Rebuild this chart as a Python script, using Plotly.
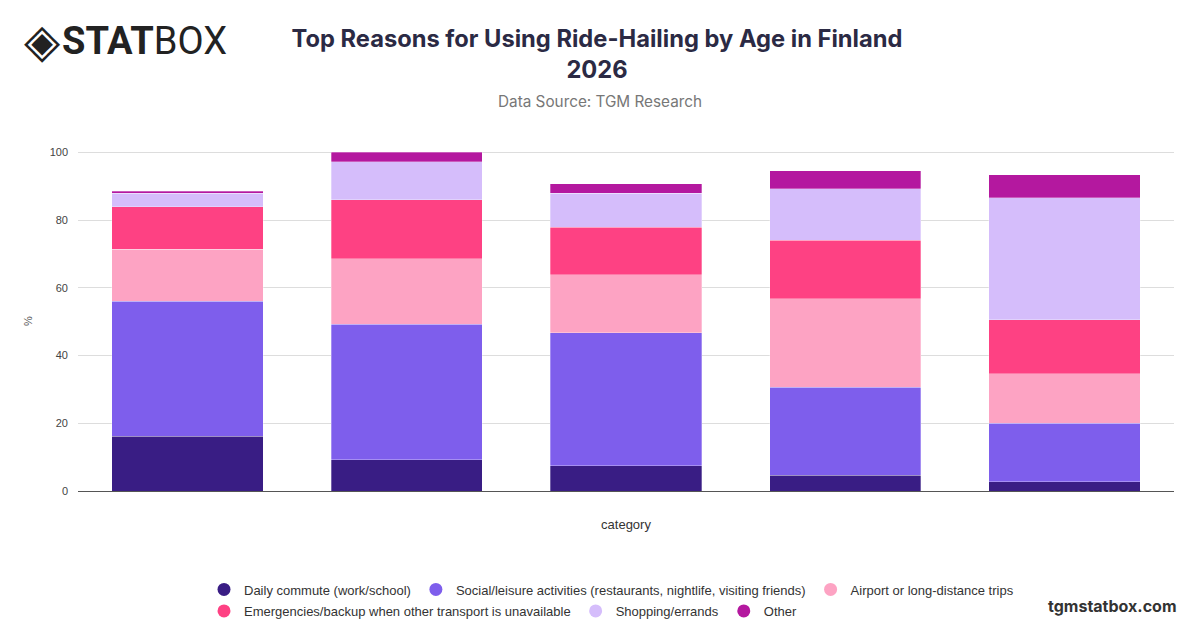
import plotly.graph_objects as go

# age groups (tick labels are not shown in the chart)
categories = ["18-24", "25-34", "35-44", "45-54", "55+"]

reasons = [
    "Daily commute (work/school)",
    "Social/leisure activities (restaurants, nightlife, visiting friends)",
    "Airport or long-distance trips",
    "Emergencies/backup when other transport is unavailable",
    "Shopping/errands",
    "Other",
]

commute = [16.1, 9.3, 7.4, 4.6, 2.7]
social = [39.9, 40.0, 39.3, 26.0, 17.3]
airport = [15.4, 19.3, 17.2, 26.1, 14.6]
emergencies = [12.5, 17.4, 14.0, 17.3, 16.0]
shopping = [4.0, 11.3, 10.0, 15.2, 36.0]
other = [0.6, 2.7, 2.8, 5.4, 6.8]

series = [commute, social, airport, emergencies, shopping, other]
colors = ["#391d84", "#7e5eec", "#fda3c3", "#fe4183", "#d5bdfb", "#b4189f"]

# page body has an 8px margin, so the figure is drawn 8px in from the window corner
OFF = 8
W, H = 1200 - OFF, 628 - OFF
L, R, T, B = 78 - OFF, 26, 151 - OFF, 137


def px(x):
    # window pixel x -> paper x
    return (x - OFF - L) / (W - L - R)


def py(y):
    # window pixel y -> paper y
    return (H - B - (y - OFF)) / (H - T - B)


def cx(x):
    return (x - OFF) / W


def cy(y):
    return 1 - (y - OFF) / H


fig = go.Figure()

for i, (name, vals, col) in enumerate(zip(reasons, series, colors)):
    fig.add_trace(go.Bar(
        x=categories, y=vals, name=name,
        marker=dict(color=col, line=dict(color="rgba(255,255,255,0.5)", width=0.6)),
        showlegend=False,
    ))
    # circle markers for the legend, first three on row 1, rest on row 2
    fig.add_trace(go.Scatter(
        x=[None], y=[None], mode="markers", name=name,
        marker=dict(color=col, size=13, symbol="circle"),
        legend="legend" if i < 3 else "legend2",
    ))

leg = dict(
    orientation="h", xref="container", yref="container",
    x=cx(204), xanchor="left", yanchor="middle",
    font=dict(size=13, color="#333"), traceorder="normal",
    bgcolor="rgba(0,0,0,0)",
)

fig.update_layout(
    width=W, height=H,
    barmode="stack", bargap=0.31,
    plot_bgcolor="white", paper_bgcolor="white",
    margin=dict(l=L, r=R, t=T, b=B, autoexpand=False),
    font=dict(family="Liberation Sans, Arial, sans-serif", color="#444"),
    title=dict(
        text="<b>Top Reasons for Using Ride-Hailing by Age in Finland<br>2026</b>",
        x=cx(597), xref="container", xanchor="center",
        y=cy(47), yref="container", yanchor="top",
        font=dict(family="Inter, sans-serif", size=23.7, color="#2b2a44"),
    ),
    xaxis=dict(
        title=dict(text="category", font=dict(size=13, color="#333"), standoff=28),
        showticklabels=False, ticks="", showgrid=False,
        showline=True, linecolor="#555", linewidth=1,
    ),
    yaxis=dict(
        title=dict(text="%", font=dict(size=11, color="#555"), standoff=14),
        range=[0, 100.4], tickvals=[0, 20, 40, 60, 80, 100],
        tickfont=dict(size=11, color="#444"), ticklabelstandoff=9,
        gridcolor="#dddddd", zeroline=False, showline=False,
    ),
    legend=dict(leg, y=cy(589.5)),
    legend2=dict(leg, y=cy(611)),
    annotations=[
        dict(text="Data Source: TGM Research", xref="paper", yref="paper",
             x=px(600), y=py(101), xanchor="center", yanchor="middle",
             showarrow=False, font=dict(family="Inter, sans-serif", size=15.3, color="#777")),
        dict(text="◈", xref="paper", yref="paper",
             x=px(22), y=py(40), xanchor="left", yanchor="middle",
             showarrow=False, font=dict(family="DejaVu Sans", size=47, color="#222")),
        dict(text="<b>STAT</b>BOX", xref="paper", yref="paper",
             x=px(60), y=py(41), xanchor="left", yanchor="middle",
             showarrow=False, font=dict(family="Roboto, sans-serif", size=38, color="#222")),
        dict(text="<b>tgmstatbox.com</b>", xref="paper", yref="paper",
             x=px(1179), y=py(606), xanchor="right", yanchor="middle",
             showarrow=False, font=dict(family="Inter, sans-serif", size=16, color="#333")),
    ],
)

fig.write_html("out.html")
